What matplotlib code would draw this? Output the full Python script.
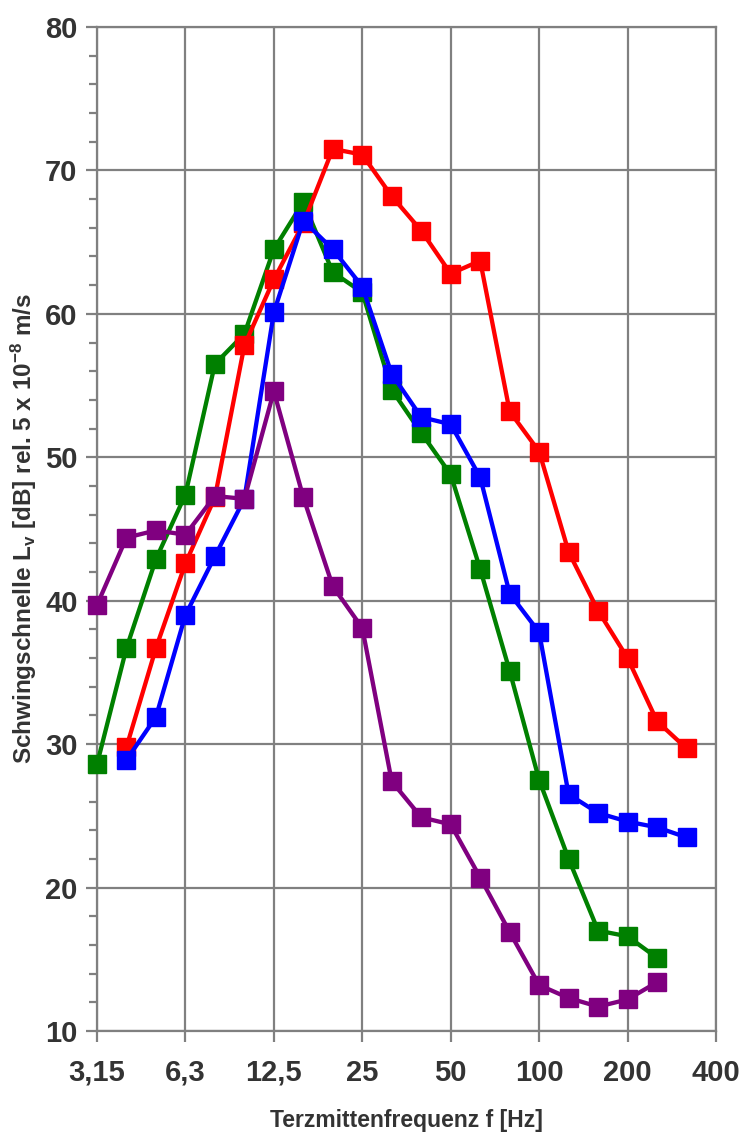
import matplotlib
matplotlib.use("Agg")
import matplotlib.pyplot as plt
from matplotlib.ticker import MultipleLocator, FixedLocator
import numpy as np

plt.rcParams['font.family'] = ['Liberation Sans', 'DejaVu Sans']
plt.rcParams['mathtext.fontset'] = 'custom'
plt.rcParams['mathtext.rm'] = 'Liberation Sans:bold'
plt.rcParams['mathtext.bf'] = 'Liberation Sans:bold'
plt.rcParams['mathtext.default'] = 'rm'

# Third-octave band centre frequencies
bands = ["3,15", "4", "5", "6,3", "8", "10", "12,5", "16", "20", "25", "31,5",
         "40", "50", "63", "80", "100", "125", "160", "200", "250", "315", "400"]
tick_labels = ["3,15", "6,3", "12,5", "25", "50", "100", "200", "400"]

# Vibration velocity levels per band (None = no measurement)
red = [None, 29.8, 36.7, 42.6, 47.2, 57.8, 62.4, 66.3, 71.5, 71.1, 68.2,
       65.8, 62.8, 63.7, 53.2, 50.4, 43.4, 39.3, 36.0, 31.6, 29.7, None]
blue = [None, 28.9, 31.9, 39.0, 43.1, 47.1, 60.1, 66.5, 64.5, 61.9, 55.8,
        52.8, 52.3, 48.6, 40.5, 37.8, 26.5, 25.2, 24.6, 24.2, 23.5, None]
green = [28.6, 36.7, 42.9, 47.4, 56.5, 58.6, 64.5, 67.8, 62.9, 61.5, 54.7,
         51.7, 48.8, 42.2, 35.1, 27.5, 22.0, 17.0, 16.6, 15.1, None, None]
purple = [39.7, 44.4, 44.9, 44.6, 47.3, 47.1, 54.6, 47.2, 41.0, 38.1, 27.4,
          24.9, 24.4, 20.7, 16.9, 13.2, 12.3, 11.7, 12.2, 13.4, None, None]

series = [(green, "#008000"), (red, "#FF0000"), (blue, "#0000FF"), (purple, "#800080")]

W, H = 745, 1133
fig = plt.figure(figsize=(W / 100, H / 100), dpi=100)
ax = fig.add_axes([97 / W, 1 - 1031 / H, (716 - 97) / W, (1031 - 27) / H])

x = np.arange(len(bands))
for vals, col in series:
    xs = [xi for xi, v in zip(x, vals) if v is not None]
    ys = [v for v in vals if v is not None]
    ax.plot(xs, ys, color=col, lw=3.1, marker="s", ms=13,
            markeredgecolor=col, clip_on=False, zorder=3)

ax.set_xlim(0, len(bands) - 1)
ax.set_ylim(10, 80)

major_pos = [bands.index(t) for t in tick_labels]
ax.xaxis.set_major_locator(FixedLocator(major_pos))
ax.set_xticklabels(tick_labels)
ax.yaxis.set_major_locator(MultipleLocator(10))
ax.yaxis.set_minor_locator(MultipleLocator(2))

grid_col = "#808080"
ax.grid(True, which="major", color=grid_col, lw=1.6, zorder=0)
ax.set_axisbelow(True)
for sp in ax.spines.values():
    sp.set_color(grid_col)
    sp.set_linewidth(1.6)

text_col = "#333333"
ax.tick_params(axis="both", which="major", direction="out", length=8, width=1.6,
               color=grid_col, labelsize=21, labelcolor=text_col, pad=6)
ax.tick_params(axis="y", which="minor", direction="out", length=6, width=1.6,
               color=grid_col)
ax.tick_params(axis="x", which="major", pad=12)
for lab in ax.get_xticklabels() + ax.get_yticklabels():
    lab.set_fontweight("bold")

ax.set_xlabel("Terzmittenfrequenz f [Hz]", fontsize=16.5, fontweight="bold",
              color=text_col, labelpad=16)
fig.text(24 / W, 1 - 529 / H,
         r"Schwingschnelle L$_{v}$ [dB] rel. 5 x 10$^{-8}$ m/s",
         rotation=90, ha="center", va="center", fontsize=17.5,
         fontweight="bold", color=text_col)

fig.savefig("out.png", dpi=100)
